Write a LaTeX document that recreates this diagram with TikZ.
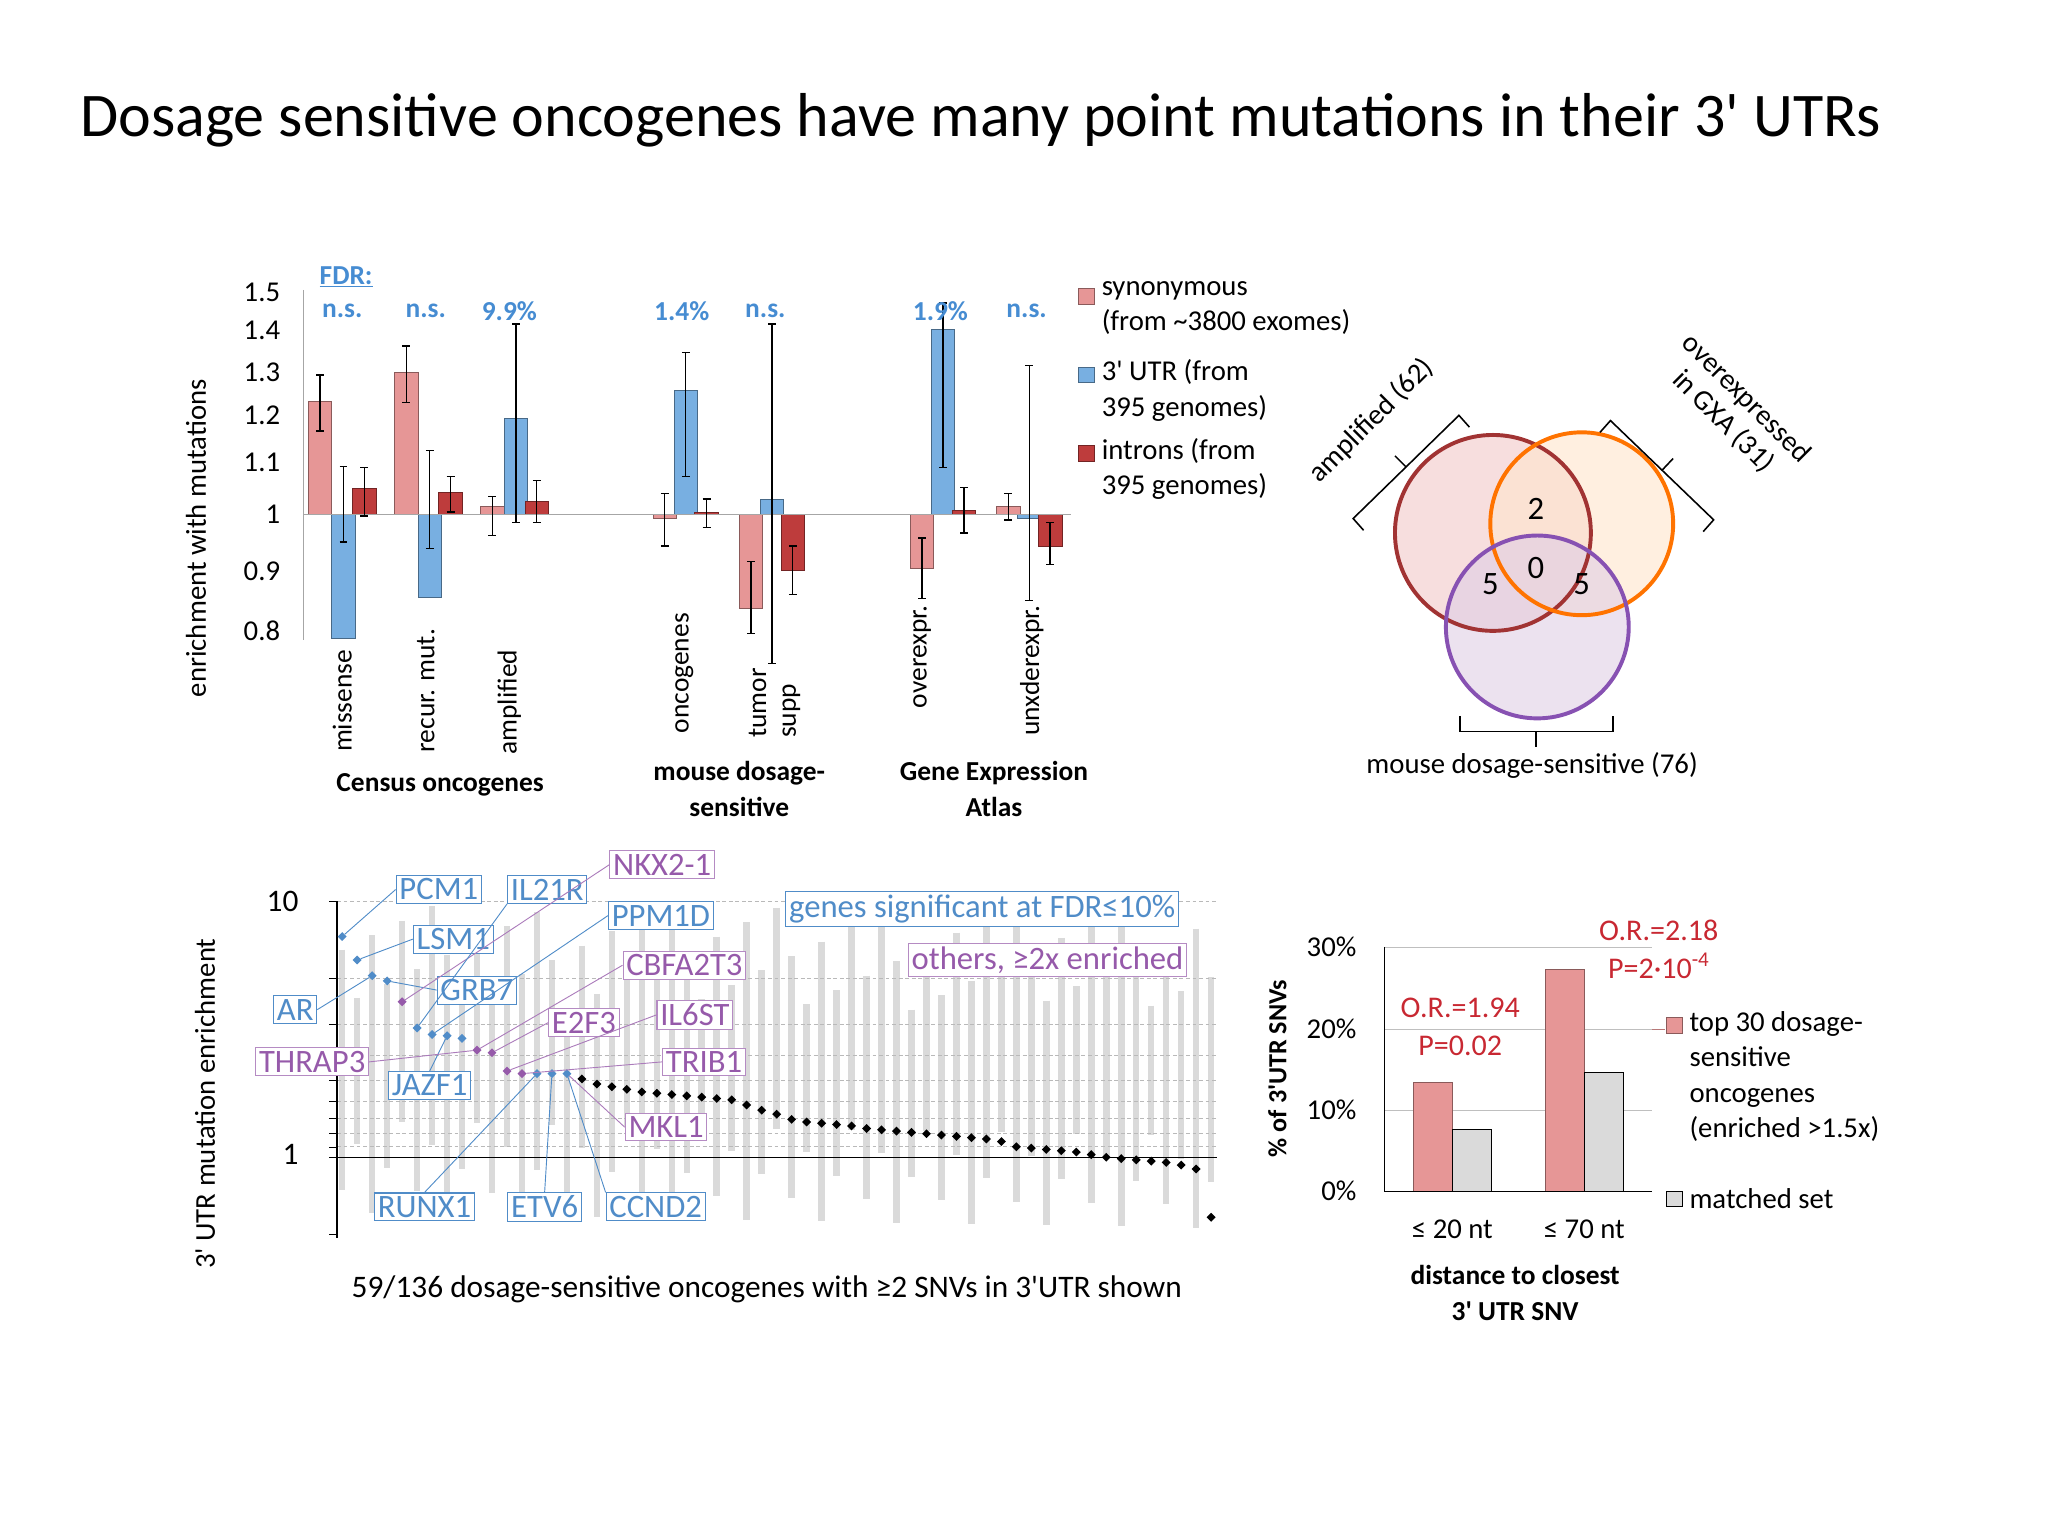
\documentclass[tikz,border=0pt]{standalone}
\usepackage{fontspec}
\setmainfont{Carlito}
\usetikzlibrary{shapes.geometric,calc}
\newcommand{\q}{\textquotesingle}
\definecolor{pinkb}{RGB}{230,150,150}
\definecolor{blueb}{RGB}{120,175,225}
\definecolor{redb}{RGB}{190,60,60}
\definecolor{fdr}{RGB}{70,140,210}
\definecolor{gblue}{RGB}{80,140,200}
\definecolor{gpurp}{RGB}{150,90,170}
\definecolor{orr}{RGB}{200,40,50}
\definecolor{barg}{RGB}{218,218,218}
\tikzset{
 ax/.style={font=\fontsize{22}{24}\selectfont},
 pbar/.style={fill=pinkb,draw=pinkb!60!black,line width=0.6pt},
 bbar/.style={fill=blueb,draw=blueb!60!black,line width=0.6pt},
 rbar/.style={fill=redb,draw=redb!60!black,line width=0.6pt},
 err/.style={line width=1pt},
 fdrt/.style={text=fdr,font=\fontsize{21}{23}\selectfont\bfseries},
 xl/.style={rotate=90,anchor=east,font=\fontsize{21}{23}\selectfont},
 grp/.style={align=center,font=\fontsize{21}{27}\selectfont\bfseries},
 bl/.style={draw=gblue,text=gblue,line width=0.8pt,inner sep=2.5pt,fill=white,font=\fontsize{25}{27}\selectfont},
 pl/.style={draw=gpurp!70,text=gpurp,line width=0.8pt,inner sep=2.5pt,fill=white,font=\fontsize{25}{27}\selectfont},
 bld/.style={gblue,line width=0.7pt},
 pld/.style={gpurp!80,line width=0.7pt},
 pt/.style={diamond,inner sep=0pt,minimum size=7pt},
}
\begin{document}
\begin{tikzpicture}[x=1pt,y=-1pt]
\useasboundingbox (0,0) rectangle (1568,1176);
\node[anchor=west,font=\fontsize{47.5}{50}\selectfont] (title) at (58,92) {Dosage sensitive oncogenes have many point mutations in their 3\q{} UTRs};

% ===== top-left bar chart
\draw[gray!70,line width=0.8pt] (232,222) -- (232,490);
\foreach \v/\y in {1.5/224,1.4/253,1.3/285,1.2/318,1.1/354,1/394,0.9/437,0.8/483}
  \node[ax,anchor=east] at (218,\y) {\v};
\node[ax,rotate=90] (ylab1) at (150,412) {enrichment with mutations};
\draw[pbar] (236,307) rectangle (254,394); \draw[bbar] (254,394) rectangle (272,489); \draw[rbar] (270,374) rectangle (288,394);
\draw[pbar] (302,285) rectangle (320,394); \draw[bbar] (320,394) rectangle (338,457); \draw[rbar] (336,377) rectangle (354,394);
\draw[pbar] (368,388) rectangle (386,394); \draw[bbar] (386,320) rectangle (404,394); \draw[rbar] (402,384) rectangle (420,394);
\draw[pbar] (500,394) rectangle (518,397); \draw[bbar] (516,299) rectangle (534,394); \draw[rbar] (532,392) rectangle (550,394);
\draw[pbar] (566,394) rectangle (584,466); \draw[bbar] (582,382) rectangle (600,394); \draw[rbar] (598,394) rectangle (616,437);
\draw[pbar] (697,394) rectangle (715,435); \draw[bbar] (713,252) rectangle (731,394); \draw[rbar] (729,391) rectangle (747,394);
\draw[pbar] (763,388) rectangle (781,394); \draw[bbar] (779,394) rectangle (797,397); \draw[rbar] (795,394) rectangle (813,418);
\draw[gray!70,line width=0.8pt] (232,394) -- (820,394);
\foreach \x/\a/\b in {245/287/330,263/357/415,279/358/395,311/265/308,329/345/420,345/365/392,377/380/410,395/248/400,411/368/400,
 509/378/418,525/270/365,541/382/404,575/430/485,591/248/508,607/418/455,706/412/458,722/232/358,738/373/408,772/378/398,788/280/460,804/400/432}
 { \draw[err] (\x,\a) -- (\x,\b); \draw[err] (\x-3,\a) -- (\x+3,\a); \draw[err] (\x-3,\b) -- (\x+3,\b); }
\node[fdrt] (fdrh) at (265,212) {\underline{FDR:}};
\foreach \x/\t in {262/n.s.,326/n.s.,390/9.9\%,522/1.4\%,586/n.s.,720/1.9\%,786/n.s.}
 \node[fdrt] at (\x,238) {\t};
\node[xl] at (262,494) {missense};
\node[xl] at (326,478) {recur. mut.};
\node[xl] at (390,494) {amplified};
\node[xl] at (524,466) {oncogenes};
\node[xl] at (580,508) {tumor};
\node[xl] at (606,520) {supp};
\node[xl] at (706,460) {overexpr.};
\node[xl] at (790,460) {unxderexpr.};
\node[grp] (g1) at (337,601) {Census oncogenes};
\node[grp] (g2) at (566,604) {mouse dosage-\\sensitive};
\node[grp] (g3) at (761,604) {Gene Expression\\Atlas};
\draw[pbar] (826,221) rectangle (838,233);
\node[ax,anchor=north west,align=left,font=\fontsize{22}{27}\selectfont] at (840,212) {synonymous\\(from \textasciitilde3800 exomes)};
\draw[bbar] (826,281) rectangle (838,293);
\node[ax,anchor=north west,align=left,font=\fontsize{22}{27}\selectfont] at (840,272) {3\q{} UTR (from\\395 genomes)};
\draw[rbar] (826,341) rectangle (838,353);
\node[ax,anchor=north west,align=left,font=\fontsize{22}{27}\selectfont] at (840,332) {introns (from\\395 genomes)};

% ===== Venn
\fill[pinkb!45,opacity=0.7] (1143,408) circle (75);
\fill[orange!20,opacity=0.6] (1211,401) circle (70);
\fill[gpurp!30,opacity=0.6] (1177,480) circle (70);
\draw[redb!85!black,line width=3pt] (1143,408) circle (75);
\draw[orange!90!red,line width=3pt] (1211,401) circle (70);
\draw[gpurp!90!blue,line width=3pt] (1177,480) circle (70);
\foreach \x/\y/\t in {1176/390/2,1176/435/0,1141/447/5,1211/447/5}
 \node[font=\fontsize{25}{27}\selectfont] at (\x,\y) {\t};
\draw[line width=1.2pt] (1044,406) -- (1036,397) -- (1117,318) -- (1125,327);
\draw[line width=1.2pt] (1076.5,357.5) -- (1068,349);
\draw[line width=1.2pt] (1225,331) -- (1233,322) -- (1312,398) -- (1304,407);
\draw[line width=1.2pt] (1272.5,360) -- (1281,351);
\draw[line width=1.2pt] (1118,548) -- (1118,560) -- (1235,560) -- (1235,548);
\draw[line width=1.2pt] (1176,560) -- (1176,572);
\node[ax,rotate=45] (va) at (1050,322) {amplified (62)};
\node[ax,rotate=-45,align=center,font=\fontsize{22}{25}\selectfont] (vo) at (1328,314) {overexpressed\\in GXA (31)};
\node[ax] (vm) at (1173,586) {mouse dosage-sensitive (76)};

% ===== bottom-left chart
\foreach \i in {1,...,59}{
 \pgfmathsetmacro\xx{262+11.47*(\i-1)}
 \pgfmathsetmacro\tp{690+mod(\i*37,85)}
 \pgfmathsetmacro\bt{858+mod(\i*53,88)}
 \draw[barg,line width=5pt] (\xx,\tp) -- (\xx,\bt);
}
\foreach \y in {690,749,784,808,827,843,856,868,878,886}
 \draw[gray!55,densely dashed,line width=0.5pt] (258,\y) -- (932,\y);
\draw[line width=1pt] (258,690) -- (258,948);
\draw[line width=1pt] (258,886) -- (932,886);
\foreach \y in {690,749,784,808,827,843,856,868,878,886,945} \draw (252,\y) -- (258,\y);
\node[font=\fontsize{24}{26}\selectfont,anchor=east] at (232,690) {10};
\node[font=\fontsize{24}{26}\selectfont,anchor=east] at (232,884) {1};
\node[ax,rotate=90] (ylab2) at (157,845) {3\q{} UTR mutation enrichment};
\foreach \y/\c [count=\i] in {717/gblue,735/gblue,747/gblue,751/gblue,767/gpurp,787/gblue,792/gblue,793/gblue,795/gblue,804/gpurp,806/gpurp,820/gpurp,822/gpurp,822/gblue,822/gblue,822/gblue,
826/black,830/black,832/black,834/black,836/black,837/black,838/black,839/black,840/black,841/black,842/black,846/black,850/black,853/black,857/black,859/black,860/black,861/black,862/black,864/black,865/black,866/black,867/black,868/black,869/black,870/black,871/black,872/black,874/black,878/black,879/black,880/black,881/black,882/black,884/black,886/black,887/black,888/black,889/black,890/black,892/black,895/black,932/black}{
 \pgfmathsetmacro\xx{262+11.47*(\i-1)}
 \node[pt,fill=\c] (p\i) at (\xx,\y) {};
}
\node[bl] (PCM1) at (336,681) {PCM1};
\node[bl] (IL21R) at (419,681) {IL21R};
\node[pl] (NKX) at (507,662) {NKX2-1};
\node[bl] (PPM1D) at (506,701) {PPM1D};
\node[bl] (LSM1) at (347,719) {LSM1};
\node[bl] (lgb) at (752,696) {genes significant at FDR≤10\%};
\node[pl] (CBFA) at (524,739) {CBFA2T3};
\node[pl] (lgp) at (802,735) {others, ≥2x enriched};
\node[bl] (AR) at (226,773) {AR};
\node[bl] (GRB7) at (365,758) {GRB7};
\node[pl] (E2F3) at (447,783) {E2F3};
\node[pl] (IL6ST) at (532,777) {IL6ST};
\node[pl] (THRAP3) at (239,813) {THRAP3};
\node[bl] (JAZF1) at (329,831) {JAZF1};
\node[pl] (TRIB1) at (539,813) {TRIB1};
\node[pl] (MKL1) at (510,863) {MKL1};
\node[bl] (RUNX1) at (325,924) {RUNX1};
\node[bl] (ETV6) at (417,924) {ETV6};
\node[bl] (CCND2) at (502,924) {CCND2};
\draw[bld] (PCM1.west) -- (p1);
\draw[bld] (LSM1.west) -- (p2);
\draw[bld] (AR.east) -- (p3);
\draw[bld] (GRB7.west) -- (p4);
\draw[pld] (NKX.west) -- (p5);
\draw[bld] (IL21R.south west) -- (p6);
\draw[bld] (PPM1D.west) -- (p7);
\draw[bld] (JAZF1.north) -- (p8);
\draw[pld] (CBFA.west) -- (p10);
\draw[pld] (E2F3.west) -- (p11);
\draw[pld] (IL6ST.west) -- (p12);
\draw[pld] (TRIB1.west) -- (p13);
\draw[pld] (THRAP3.east) -- (p10);
\draw[bld] (RUNX1.north) -- (p14);
\draw[bld] (ETV6.north) -- (p15);
\draw[bld] (CCND2.north west) -- (p16);
\draw[pld] (MKL1.west) -- (p16);
\node[font=\fontsize{24}{26}\selectfont] (cap) at (587,987) {59/136 dosage-sensitive oncogenes with ≥2 SNVs in 3\q{}UTR shown};

% ===== bottom-right chart
\foreach \y in {725,788,850} \draw[gray!50,line width=0.6pt] (1060,\y) -- (1265,\y);
\draw[pinkb!80!black,line width=0.8pt] (1265,788) -- (1275,788);
\draw[pbar] (1082,829) rectangle (1112,912);
\draw[fill=barg,draw=black,line width=0.6pt] (1112,865) rectangle (1142,912);
\draw[pbar] (1183,742) rectangle (1213,912);
\draw[fill=barg,draw=black,line width=0.6pt] (1213,821) rectangle (1243,912);
\draw[line width=1pt] (1060,725) -- (1060,912) -- (1265,912);
\foreach \y/\t in {725/30\%,788/20\%,850/10\%,912/0\%}
 \node[ax,anchor=east] at (1042,\y) {\t};
\node[ax] at (1112,941) {≤ 20 nt};
\node[ax] at (1213,941) {≤ 70 nt};
\node[grp] (dist) at (1160,990) {distance to closest\\3\q{} UTR SNV};
\node[rotate=90,font=\fontsize{20}{22}\selectfont\bfseries] (ylab3) at (978,818) {\% of 3\q{}UTR SNVs};
\node[text=orr,align=center,font=\fontsize{23}{29}\selectfont] (or1) at (1118,786) {O.R.=1.94\\P=0.02};
\node[text=orr,align=center,font=\fontsize{23}{29}\selectfont] (or2) at (1270,727) {O.R.=2.18\\P=2·10\textsuperscript{-4}};
\draw[pbar] (1276,779) rectangle (1288,791);
\node[anchor=north west,align=left,font=\fontsize{22}{27}\selectfont] at (1290,771) {top 30 dosage-\\sensitive\\oncogenes\\(enriched >1.5x)};
\draw[fill=barg,draw=black,line width=0.6pt] (1276,912) rectangle (1288,924);
\node[ax,anchor=west] at (1290,918) {matched set};
\end{tikzpicture}
\end{document}
